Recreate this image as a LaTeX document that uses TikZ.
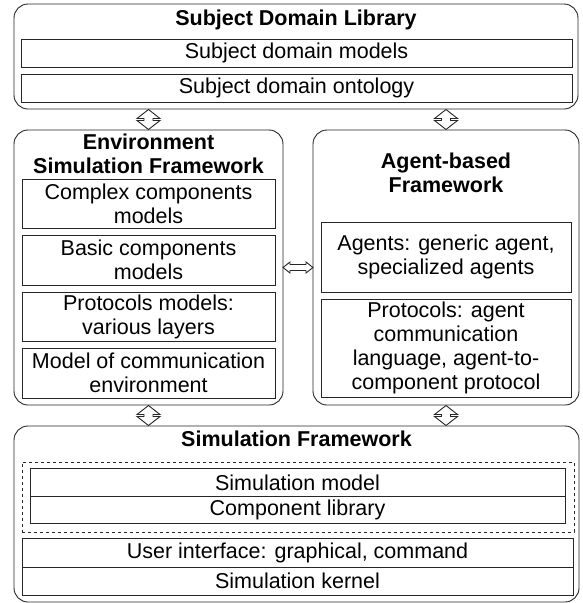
\documentclass[tikz,border=0pt]{standalone}
\usepackage{fontspec}
\setmainfont{Liberation Sans}
\usetikzlibrary{positioning, calc}

\begin{document}
\begin{tikzpicture}[
        x=1pt, y=1pt,
        font=\fontsize{21.5}{24}\selectfont,
        every node/.style={inner sep=0pt, outer sep=0pt},
        container/.style={draw=black!85, line width=0.9pt, rounded corners=14pt},
        part/.style={draw=black!85, line width=0.9pt, align=center},
        heading/.style={font=\fontsize{21.5}{24}\selectfont\bfseries, align=center},
        link/.style={draw=black!85, fill=white, line width=0.9pt, line join=miter},
        vlink/.pic={\path[link] (0,10) -- (-11.5,1) -- (-4.5,1) -- (-4.5,-1) -- (-11.5,-1)
            -- (0,-10) -- (11.5,-1) -- (4.5,-1) -- (4.5,1) -- (11.5,1) -- cycle;},
        hlink/.pic={\path[link] (-15,0) -- (-8,5.5) -- (-8,3) -- (8,3) -- (8,5.5)
            -- (15,0) -- (8,-5.5) -- (8,-3) -- (-8,-3) -- (-8,-5.5) -- cycle;}
    ]
        \useasboundingbox (0,0) rectangle (582,-603);
        % subject domain library
        \node[container, minimum width=564pt, minimum height=105pt] (sdl) at (296,-56.5) {};
        \node[heading, anchor=base] (sdlt) at (296,-25) {Subject Domain Library};
        \node[part, minimum width=551pt, minimum height=28pt] (sdm) at (296.5,-53) {Subject domain models};
        \node[part, minimum width=551pt, minimum height=28pt, below=7pt of sdm] (sdo) {Subject domain ontology};
        % environment simulation framework
        \node[container, minimum width=269pt, minimum height=275pt] (esf) at (148.5,-267.5) {};
        \node[heading] (esft) at (148.5,-154) {Environment\\Simulation Framework};
        \node[part, minimum width=253pt, minimum height=49.5pt] (ccm) at (148.5,-203.75) {Complex components\\models};
        \node[part, minimum width=253pt, minimum height=49.5pt, below=7pt of ccm] (bcm) {Basic components\\models};
        \node[part, minimum width=253pt, minimum height=49.5pt, below=7pt of bcm] (pmv) {Protocols models:\\various layers};
        \node[part, minimum width=253pt, minimum height=49.5pt, below=7pt of pmv] (mce) {Model of communication\\environment};
        % agent-based framework
        \node[container, minimum width=266pt, minimum height=275pt] (abf) at (446,-267.5) {};
        \node[heading] (abft) at (446,-173) {Agent-based\\Framework};
        \node[part, minimum width=250pt, minimum height=70pt] (agt) at (446,-257) {Agents: generic agent,\\specialized agents};
        \node[part, minimum width=250pt, minimum height=98pt, below=7pt of agt] (prt) {Protocols: agent\\communication\\language, agent-to-\\component protocol};
        % simulation framework
        \node[container, minimum width=565pt, minimum height=176pt] (sf) at (296.5,-514) {};
        \node[heading, anchor=base] (sft) at (296.5,-446) {Simulation Framework};
        \node[draw=black!85, dashed, line width=0.8pt, minimum width=552pt, minimum height=70pt] (simgrp) at (298,-497) {};
        \node[part, minimum width=535pt, minimum height=28.5pt] (smod) at (297.5,-482.5) {Simulation model};
        \node[part, minimum width=535pt, minimum height=27pt, below=0pt of smod] (clib) {Component library};
        \node[part, minimum width=551pt, minimum height=29pt] (uif) at (297.5,-552.5) {User interface: graphical, command};
        \node[part, minimum width=551pt, minimum height=28pt, below=0pt of uif] (skr) {Simulation kernel};
        % links
        \coordinate (l1) at ($(esf.north)!0.5!(esf.north |- sdl.south)$);
        \coordinate (l2) at ($(abf.north)!0.5!(abf.north |- sdl.south)$);
        \coordinate (l3) at ($(esf.south)!0.5!(esf.south |- sf.north)$);
        \coordinate (l4) at ($(abf.south)!0.5!(abf.south |- sf.north)$);
        \coordinate (l5) at ($(esf.east)!0.5!(abf.west)$);
        \foreach \l in {l1, l2, l3, l4}
            \pic at (\l) {vlink};
        \pic at (l5) {hlink};
\end{tikzpicture}
\end{document}
